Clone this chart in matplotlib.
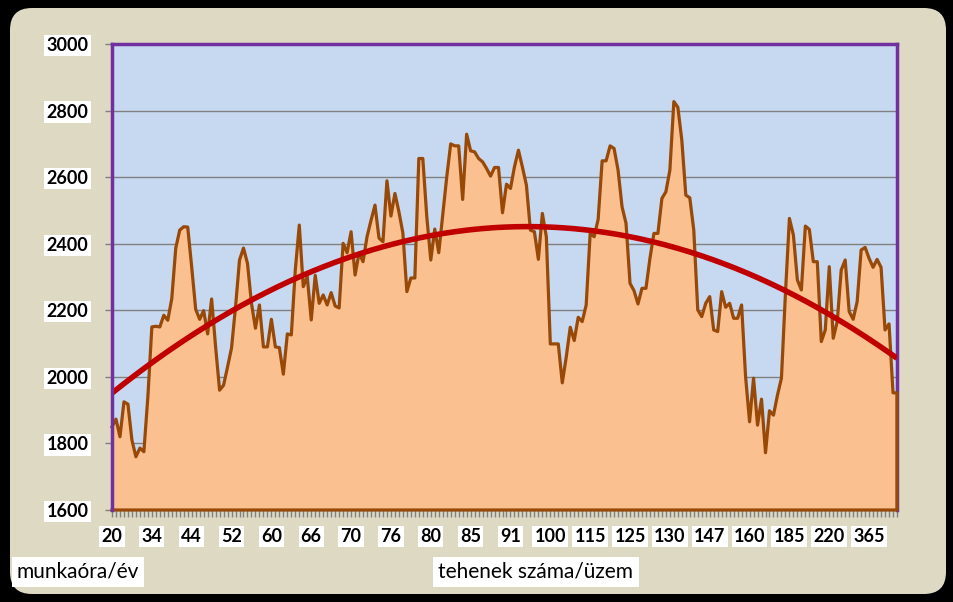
import numpy as np
import matplotlib.pyplot as plt
from matplotlib.patches import FancyBboxPatch

plt.rcParams['font.family'] = ['Lato', 'DejaVu Sans']

# tehenek száma/üzem -> munkaóra/év (one value per farm)
munkaora = [
    1850, 1873, 1820, 1925, 1918, 1810, 1760, 1786, 1775, 1940,
    2150, 2152, 2150, 2185, 2170, 2235, 2387, 2441, 2451, 2450,
    2330, 2203, 2173, 2199, 2129, 2234, 2090, 1960, 1975, 2030,
    2087, 2210, 2351, 2387, 2341, 2221, 2146, 2216, 2090, 2090,
    2173, 2090, 2088, 2008, 2129, 2126, 2321, 2456, 2271, 2301,
    2171, 2305, 2221, 2246, 2216, 2253, 2213, 2207, 2401, 2373,
    2436, 2306, 2372, 2346, 2421, 2470, 2516, 2417, 2406, 2589,
    2483, 2551, 2496, 2432, 2256, 2297, 2297, 2656, 2656, 2481,
    2351, 2444, 2373, 2486, 2600, 2700, 2694, 2694, 2533, 2729,
    2679, 2676, 2656, 2646, 2626, 2603, 2629, 2629, 2493, 2579,
    2566, 2631, 2681, 2630, 2576, 2441, 2436, 2353, 2491, 2421,
    2099, 2099, 2099, 1982, 2060, 2149, 2109, 2179, 2166, 2216,
    2431, 2421, 2473, 2649, 2649, 2694, 2686, 2621, 2511, 2461,
    2281, 2259, 2219, 2266, 2266, 2356, 2431, 2431, 2536, 2556,
    2621, 2827, 2810, 2711, 2546, 2538, 2441, 2201, 2181, 2221,
    2241, 2141, 2136, 2256, 2209, 2221, 2176, 2176, 2216, 2001,
    1865, 1996, 1855, 1933, 1772, 1898, 1885, 1945, 1996, 2250,
    2476, 2426, 2291, 2261, 2453, 2443, 2346, 2346, 2106, 2141,
    2331, 2116, 2166, 2321, 2351, 2196, 2173, 2226, 2381, 2389,
    2356, 2329, 2353, 2329, 2141, 2159, 1952, 1952,
]
tick_labels = ["20", "34", "44", "52", "60", "66", "70", "76", "80", "85",
               "91", "100", "115", "125", "130", "147", "160", "185", "220", "365"]
label_step = 10
y_ticks = [1600, 1800, 2000, 2200, 2400, 2600, 2800, 3000]

brown = "#984807"
fill_c = "#fac090"
purple = "#7030a0"
grey = "#808080"

n = len(munkaora)
x = np.arange(n)
y = np.array(munkaora, dtype=float)

fig = plt.figure(figsize=(9.54, 6.02), dpi=100, facecolor="black")
panel = FancyBboxPatch((0.10, 0.08), 9.36, 5.86,
                       boxstyle="round,pad=0,rounding_size=0.22",
                       transform=fig.dpi_scale_trans,
                       facecolor="#ddd9c3", edgecolor="none", zorder=-10)
fig.add_artist(panel)

ax = fig.add_axes([112/954, 1-510/602, (897-112)/954, (510-44)/602])
ax.set_facecolor("#c6d9f1")
ax.set_xlim(0, n-1)
ax.set_ylim(1600, 3000)

for yy in y_ticks[1:-1]:
    ax.axhline(yy, color=grey, lw=1, zorder=1)

# area
ax.fill_between(x, 1600, y, color=fill_c, lw=0, zorder=2)
ox = np.concatenate([x, [n-1, 0]])
oy = np.concatenate([y, [1600, 1600]])
ax.plot(ox, oy, color=brown, lw=2.3, zorder=4, clip_on=False,
        solid_joinstyle="round")

# polynomial trendline (2nd order)
coef = np.polyfit(x, y, 2)
xt = np.linspace(0, n-1, 400)
ax.plot(xt, np.polyval(coef, xt), color="#c00000", lw=4, zorder=5,
        solid_capstyle="butt")

for s in ["top", "left", "right"]:
    ax.spines[s].set_color(purple)
    ax.spines[s].set_linewidth(2.5)
ax.spines["bottom"].set_color(grey)
ax.spines["left"].set_zorder(6)

lab_font = dict(fontsize=13, fontweight="bold", color="black")
box = dict(boxstyle="square,pad=0.12", facecolor="white", edgecolor="none")

ax.set_yticks(y_ticks)
ax.set_yticklabels([str(v) for v in y_ticks], **lab_font)
ax.tick_params(axis="y", direction="out", length=5, width=1, color=grey, pad=12)
ax.set_xticks(x[::label_step])
ax.set_xticklabels(tick_labels, **lab_font)
ax.set_xticks(x, minor=True)
ax.tick_params(axis="x", which="both", direction="out", length=5, width=1,
               color=grey, pad=8)
for t in ax.get_xticklabels() + ax.get_yticklabels():
    t.set_bbox(box)

fig.text(78/954, 1-572/602, "munkaóra/év", fontsize=15, ha="center", va="center",
         bbox=dict(boxstyle="square,pad=0.25", facecolor="white", edgecolor="none"))
fig.text(536/954, 1-572/602, "tehenek száma/üzem", fontsize=15, ha="center",
         va="center",
         bbox=dict(boxstyle="square,pad=0.25", facecolor="white", edgecolor="none"))

fig.savefig("out.png", dpi=100, facecolor="black")
